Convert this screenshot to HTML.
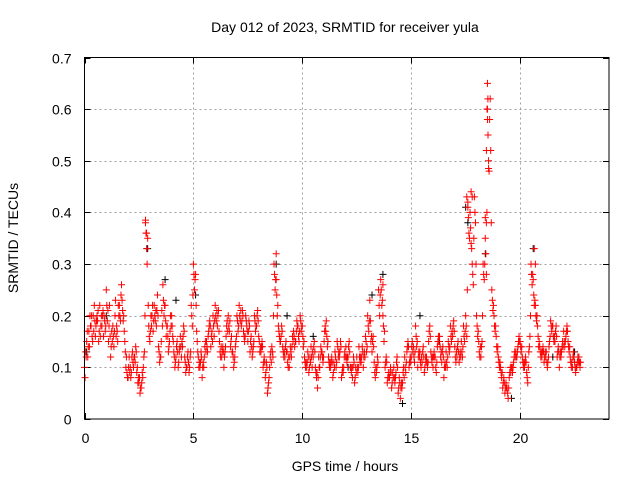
<!DOCTYPE html>
<html><head><meta charset="utf-8"><style>
body{margin:0;background:#fff;}
svg{display:block;font-family:"Liberation Sans",sans-serif;}
</style></head><body>
<svg id="chart" width="640" height="480" viewBox="0 0 640 480">
<rect width="640" height="480" fill="#fff"/>
<text x="345" y="32" font-size="14" text-anchor="middle">Day 012 of 2023, SRMTID for receiver yula</text>
<g id="grid"></g>
<g id="axes"></g>
<g id="marks"></g>
<rect x="84.5" y="57.5" width="524.5" height="361.5" fill="none" stroke="#000" stroke-width="1"/>
<text transform="translate(18,238) rotate(-90)" font-size="14" text-anchor="middle">SRMTID / TECUs</text>
<text x="345" y="471" font-size="14" text-anchor="middle">GPS time / hours</text>
</svg>
<script>
const xTicks=[0,5,10,15,20];
const yTicks=[0,0.1,0.2,0.3,0.4,0.5,0.6,0.7];
const yTickLabels=["0","0.1","0.2","0.3","0.4","0.5","0.6","0.7"];
// red series A at t = 0.0, 0.1, ...
const redA=[0.1,0.15,0.17,0.18,0.2,0.16,0.19,0.22,0.18,0.2,
0.25,0.15,0.12,0.18,0.2,0.17,0.22,0.26,0.2,0.1,
0.08,0.1,0.13,0.12,0.09,0.07,0.06,0.1,0.38,0.35,
0.15,0.2,0.22,0.18,0.14,0.12,0.26,0.22,0.18,0.15,
0.2,0.13,0.12,0.1,0.16,0.14,0.12,0.1,0.09,0.22,
0.3,0.28,0.13,0.1,0.08,0.12,0.15,0.17,0.14,0.2,
0.22,0.18,0.15,0.12,0.1,0.16,0.2,0.14,0.13,0.12,
0.2,0.22,0.18,0.17,0.2,0.15,0.13,0.12,0.2,0.18,
0.16,0.13,0.1,0.08,0.05,0.1,0.14,0.3,0.27,0.18,
0.15,0.14,0.12,0.13,0.1,0.12,0.17,0.15,0.18,0.2,
0.18,0.12,0.1,0.09,0.14,0.12,0.1,0.06,0.1,0.13,
0.15,0.19,0.12,0.1,0.08,0.13,0.15,0.12,0.08,0.1,
0.14,0.12,0.1,0.08,0.07,0.12,0.14,0.11,0.1,0.16,
0.2,0.23,0.13,0.11,0.09,0.25,0.27,0.2,0.1,0.07,
0.08,0.06,0.1,0.09,0.05,0.04,0.07,0.12,0.13,0.1,
0.12,0.14,0.18,0.1,0.13,0.11,0.09,0.12,0.15,0.13,
0.1,0.12,0.14,0.16,0.11,0.08,0.13,0.15,0.18,0.16,
0.14,0.12,0.11,0.15,0.18,0.2,0.42,0.4,0.3,0.43,
0.2,0.15,0.12,0.3,0.35,0.6,0.58,0.25,0.2,0.16,
0.12,0.1,0.06,0.05,0.06,0.08,0.1,0.11,0.13,0.14,
0.15,0.12,0.1,0.09,0.13,0.3,0.27,0.22,0.18,0.14,
0.12,0.11,0.13,0.12,0.19,0.18,0.15,0.12,0.1,0.13,
0.17,0.16,0.15,0.12,0.1,0.11,0.1,0.12];
// red series B at t = 0.05, 0.15, ...
const redB=[0.13,0.12,0.2,0.16,0.22,0.19,0.15,0.18,0.21,0.17,
0.19,0.22,0.17,0.14,0.16,0.22,0.19,0.21,0.15,0.09,
0.12,0.09,0.1,0.14,0.07,0.05,0.09,0.13,0.33,0.18,
0.2,0.17,0.19,0.24,0.11,0.21,0.2,0.16,0.13,0.2,
0.16,0.1,0.15,0.13,0.12,0.18,0.09,0.13,0.12,0.18,
0.25,0.17,0.1,0.13,0.11,0.15,0.13,0.19,0.17,0.16,
0.19,0.21,0.12,0.14,0.13,0.19,0.17,0.16,0.1,0.15,
0.17,0.19,0.21,0.15,0.18,0.19,0.16,0.14,0.17,0.21,
0.13,0.15,0.12,0.11,0.07,0.13,0.12,0.25,0.2,0.16,
0.18,0.12,0.15,0.1,0.14,0.16,0.14,0.19,0.15,0.17,
0.14,0.1,0.13,0.12,0.1,0.15,0.08,0.12,0.14,0.11,
0.18,0.14,0.1,0.12,0.11,0.1,0.12,0.15,0.1,0.13,
0.11,0.15,0.09,0.12,0.1,0.09,0.11,0.14,0.13,0.13,
0.17,0.15,0.16,0.08,0.12,0.2,0.22,0.15,0.12,0.09,
0.1,0.09,0.07,0.12,0.08,0.07,0.1,0.09,0.15,0.12,
0.15,0.11,0.14,0.13,0.1,0.14,0.12,0.1,0.18,0.11,
0.13,0.09,0.16,0.12,0.14,0.11,0.1,0.13,0.15,0.19,
0.11,0.15,0.13,0.12,0.15,0.16,0.36,0.34,0.26,0.38,
0.16,0.12,0.15,0.27,0.28,0.5,0.52,0.21,0.17,0.13,
0.1,0.08,0.08,0.07,0.04,0.1,0.09,0.13,0.12,0.16,
0.13,0.1,0.12,0.07,0.16,0.26,0.22,0.19,0.14,0.12,
0.14,0.13,0.1,0.15,0.17,0.15,0.18,0.14,0.13,0.15,
0.14,0.18,0.13,0.1,0.13,0.09,0.12,0.1];
// red series C at t = 0.025, 0.125, ...
const redC=[0.08,0.17,0.14,0.2,0.17,0.18,0.21,0.16,0.2,0.19,
0.22,0.18,0.14,0.16,0.23,0.15,0.2,0.23,0.17,0.12,
0.1,0.08,0.11,0.11,0.1,0.08,0.07,0.12,0.36,0.22,
0.17,0.22,0.2,0.21,0.13,0.15,0.23,0.19,0.16,0.17,
0.18,0.12,0.14,0.11,0.14,0.16,0.11,0.12,0.1,0.2,
0.28,0.22,0.12,0.11,0.1,0.14,0.14,0.18,0.16,0.18,
0.2,0.2,0.13,0.13,0.12,0.18,0.18,0.15,0.12,0.14,
0.19,0.2,0.19,0.16,0.19,0.17,0.15,0.13,0.19,0.2,
0.15,0.14,0.11,0.09,0.06,0.12,0.13,0.28,0.24,0.17,
0.16,0.13,0.14,0.11,0.12,0.14,0.16,0.17,0.16,0.19,
0.16,0.11,0.11,0.1,0.12,0.14,0.09,0.08,0.12,0.12,
0.17,0.16,0.11,0.11,0.09,0.12,0.14,0.13,0.09,0.12,
0.12,0.14,0.1,0.1,0.08,0.1,0.12,0.12,0.12,0.15,
0.18,0.19,0.15,0.09,0.1,0.22,0.25,0.18,0.11,0.08,
0.09,0.07,0.08,0.11,0.06,0.06,0.09,0.1,0.14,0.11,
0.14,0.12,0.16,0.12,0.11,0.13,0.1,0.11,0.17,0.12,
0.12,0.1,0.15,0.14,0.13,0.1,0.11,0.14,0.16,0.18,
0.12,0.14,0.12,0.13,0.16,0.18,0.39,0.37,0.28,0.4,
0.18,0.13,0.14,0.28,0.32,0.55,0.62,0.23,0.18,0.14,
0.11,0.09,0.07,0.06,0.05,0.09,0.1,0.12,0.12,0.15,
0.14,0.11,0.11,0.08,0.14,0.28,0.24,0.2,0.16,0.13,
0.13,0.12,0.11,0.14,0.18,0.16,0.17,0.13,0.12,0.14,
0.15,0.17,0.14,0.11,0.12,0.1,0.11,0.11];
// red series D at t = 0.075, 0.175, ...
const redD=[0.12,0.14,0.18,0.15,0.19,0.2,0.17,0.2,0.16,0.18,
0.21,0.16,0.15,0.17,0.18,0.2,0.24,0.19,0.13,0.08,
0.09,0.12,0.12,0.13,0.08,0.06,0.08,0.2,0.3,0.16,
0.18,0.19,0.21,0.2,0.12,0.18,0.22,0.18,0.14,0.18,
0.15,0.11,0.13,0.14,0.15,0.17,0.1,0.11,0.13,0.24,
0.27,0.15,0.11,0.12,0.1,0.13,0.16,0.18,0.15,0.19,
0.21,0.17,0.14,0.13,0.14,0.17,0.19,0.13,0.11,0.16,
0.18,0.21,0.2,0.16,0.17,0.18,0.14,0.15,0.18,0.19,
0.14,0.14,0.11,0.1,0.08,0.11,0.2,0.27,0.22,0.15,
0.17,0.13,0.13,0.12,0.13,0.15,0.15,0.18,0.17,0.18,
0.15,0.11,0.12,0.11,0.13,0.13,0.09,0.1,0.13,0.12,
0.17,0.15,0.11,0.11,0.1,0.11,0.13,0.14,0.09,0.12,
0.12,0.13,0.1,0.11,0.09,0.1,0.12,0.13,0.12,0.14,
0.19,0.16,0.14,0.1,0.11,0.24,0.23,0.17,0.11,0.08,
0.09,0.08,0.08,0.1,0.07,0.06,0.08,0.11,0.14,0.11,
0.13,0.13,0.15,0.12,0.12,0.12,0.11,0.11,0.16,0.12,
0.12,0.11,0.15,0.13,0.12,0.1,0.12,0.14,0.17,0.17,
0.13,0.13,0.12,0.14,0.17,0.25,0.35,0.33,0.35,0.3,
0.17,0.14,0.2,0.3,0.4,0.48,0.38,0.22,0.18,0.14,
0.11,0.09,0.07,0.06,0.06,0.09,0.1,0.12,0.13,0.15,
0.14,0.11,0.11,0.1,0.2,0.28,0.23,0.2,0.15,0.13,
0.13,0.12,0.11,0.16,0.18,0.16,0.16,0.13,0.12,0.14,
0.15,0.17,0.14,0.11,0.12,0.1,0.11,0.11];
// extra spike points (hours, value)
const spikeT=[18.5,18.52,18.48,18.5,18.45,18.55,17.55,17.6,17.75,17.8,18.4,18.45,2.8,2.85,8.8,13.7,20.65,20.7];
const spikeV=[0.65,0.62,0.6,0.58,0.52,0.485,0.43,0.41,0.44,0.43,0.39,0.38,0.385,0.36,0.32,0.26,0.33,0.3];
// black series (hours, value)
const blackT=[0.1,1.0,2.9,3.7,4.2,5.1,8.8,9.3,10.5,12.1,13.2,13.7,14.6,15.4,16.3,17.5,17.6,18.4,19.6,20.6,21.5,22.5];
const blackV=[0.13,0.2,0.33,0.27,0.23,0.24,0.3,0.2,0.16,0.1,0.24,0.28,0.03,0.2,0.15,0.41,0.38,0.32,0.04,0.33,0.12,0.13];

const X0=84.5,X1=609,Y0=419,Y1=57.5,XMAX=24.08,YMAX=0.7;
const xs=t=>X0+(X1-X0)*t/XMAX;
const ys=v=>Y0-(Y0-Y1)*v/YMAX;
const NS="http://www.w3.org/2000/svg";
const grid=document.getElementById('grid'),axes=document.getElementById('axes'),marks=document.getElementById('marks');
function mk(tag,attrs,parent){const e=document.createElementNS(NS,tag);for(const k in attrs)e.setAttribute(k,attrs[k]);parent.appendChild(e);return e;}
xTicks.forEach(t=>{
  const x=Math.round(xs(t))+0.5;
  if(t>0){const g=mk('line',{x1:x,x2:x,y1:Y1,y2:Y0,stroke:'#a0a0a0','stroke-dasharray':'2,3'},grid);
  
  }
  mk('line',{x1:x,x2:x,y1:Y0,y2:Y0-6,stroke:'#000'},axes);
  mk('line',{x1:x,x2:x,y1:Y1,y2:Y1+6,stroke:'#000'},axes);
  const l=mk('text',{x:x,y:Y0+24,'font-size':14,'text-anchor':'middle'},axes);
  l.textContent=t;
  
  
});
yTicks.forEach((v,i)=>{
  const y=Math.round(ys(v))+0.5;
  if(v>0&&v<0.7){const g=mk('line',{x1:X0,x2:X1,y1:y,y2:y,stroke:'#a0a0a0','stroke-dasharray':'2,3'},grid);
  
  }
  mk('line',{x1:X0,x2:X0+6,y1:y,y2:y,stroke:'#000'},axes);
  mk('line',{x1:X1,x2:X1-6,y1:y,y2:y,stroke:'#000'},axes);
  const l=mk('text',{x:X0-13,y:y+5,'font-size':14,'text-anchor':'end'},axes);
  l.textContent=yTickLabels[i];
  
  
});
function plus(t,v,color,name){
  const x=xs(t),y=ys(v);
  const p=mk('path',{d:`M${x-3.5},${y}h7M${x},${y-3.5}v7`,stroke:color,'stroke-width':1,fill:'none'},marks);
  
  
}
blackT.forEach((t,i)=>plus(t,blackV[i],'#000','black-point'));
redA.forEach((v,i)=>plus(i*0.1,v,'#f00','red-point'));
redB.forEach((v,i)=>plus(i*0.1+0.05,v,'#f00','red-point'));
redC.forEach((v,i)=>plus(i*0.1+0.025,v,'#f00','red-point'));
redD.forEach((v,i)=>plus(i*0.1+0.075,v,'#f00','red-point'));
spikeT.forEach((t,i)=>plus(t,spikeV[i],'#f00','red-point'));
</script>
</body></html>
